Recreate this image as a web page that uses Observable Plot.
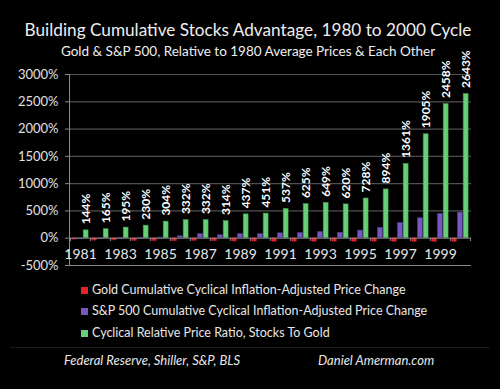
<!DOCTYPE html>
<html><head><meta charset="utf-8">
<script src="https://cdn.jsdelivr.net/npm/d3@7"></script>
<script src="https://cdn.jsdelivr.net/npm/@observablehq/plot@0.6"></script>
<style>
body{margin:0;background:#000;width:500px;height:389px;overflow:hidden;font-family:Lato,"Open Sans",sans-serif;color:#eee;position:relative}
.t{position:absolute;left:0;width:496px;text-align:center;white-space:nowrap}
#title{top:19px;font-size:17.2px;line-height:22px}
#sub{top:43px;font-size:13.5px;line-height:16px}
#chart{position:absolute;left:0;top:60px}
.leg{position:absolute;left:81px;font-size:12.5px;line-height:14px;color:#e8e8e8;white-space:nowrap}
.sw{display:inline-block;width:7px;height:7px;margin-right:4px;vertical-align:0px}
.foot{position:absolute;top:352px;font-size:13px;font-style:italic;color:#e8e8e8;white-space:nowrap}
#sep{position:absolute;left:10px;width:480px;top:347px;height:1px;background:#1c1c1c}
</style></head>
<body>
<div id="title" class="t">Building Cumulative Stocks Advantage, 1980 to 2000 Cycle</div>
<div id="sub" class="t">Gold &amp; S&amp;P 500, Relative to 1980 Average Prices &amp; Each Other</div>
<div id="chart"></div>
<div id="legend"></div>
<div id="sep"></div>
<div class="foot" style="left:64px">Federal Reserve, Shiller, S&amp;P, BLS</div>
<div class="foot" style="left:318px">Daniel Amerman.com</div>
<script>
const years = [1981,1982,1983,1984,1985,1986,1987,1988,1989,1990,1991,1992,1993,1994,1995,1996,1997,1998,1999,2000];
const goldChange = [-25,-45,-40,-50,-55,-55,-50,-55,-60,-62,-65,-65,-65,-65,-65,-65,-67,-70,-70,-70];
const spChange = [-8,-12,8,5,12,35,75,55,75,75,90,95,115,100,140,190,280,365,445,470];
const ratioChange = [144,165,195,230,304,332,332,314,437,451,537,625,649,620,728,894,1361,1905,2458,2643];
const yTicks = [-500,0,500,1000,1500,2000,2500,3000];
const labeledYears = [1981,1983,1985,1987,1989,1991,1993,1995,1997,1999];
const seriesNames = ["Gold Cumulative  Cyclical Inflation-Adjusted Price Change","S&P 500 Cumulative Cyclical Inflation-Adjusted Price Change","Cyclical Relative Price Ratio, Stocks To Gold"];
const colors = ["#e3222b","#7657c2","#67cf76"];
const strokes = ["#a0141b","#4c3490","#3f9a4e"];

const rows = years.map((y,i)=>({year:y, gold:goldChange[i], sp:spChange[i], ratio:ratioChange[i]}));

const chart = Plot.plot({
  width:500, height:215,
  marginLeft:69, marginRight:29, marginTop:14, marginBottom:10,
  x:{type:"band", domain:years, padding:0, axis:null},
  y:{domain:[-500,3000], axis:null},
  style:{background:"transparent", color:"#ddd", fontFamily:"Lato, 'Open Sans', sans-serif", overflow:"visible"},
  marks:[
    Plot.ruleY(yTicks.filter(t=>t>0), {stroke:"#505050", strokeWidth:1.2}),
    Plot.ruleY([-500], {stroke:"#8a8a8a"}),
    Plot.barY(rows, {x:"year", y:"gold", fill:colors[0], stroke:strokes[0], strokeWidth:0.6, insetLeft:1.8, insetRight:13.7}),
    Plot.barY(rows, {x:"year", y:"sp", fill:colors[1], stroke:strokes[1], strokeWidth:0.6, insetLeft:7.4, insetRight:7.7}),
    Plot.barY(rows, {x:"year", y:"ratio", fill:colors[2], stroke:strokes[2], strokeWidth:0.6, insetLeft:13.2, insetRight:1.9}),
    Plot.ruleY([0], {stroke:"#8a8a8a"}),
    Plot.ruleX(years, {x:d=>d, dx:-10.05, y1:0, y2:-60, stroke:"#8a8a8a"}),
    Plot.ruleX([2000], {x:d=>d, dx:10.05, y1:0, y2:-60, stroke:"#8a8a8a"}),
    Plot.frame({anchor:"left", stroke:"#8a8a8a"}),
    Plot.axisY({ticks:yTicks, tickFormat:d=>d+"%", tickSize:4, tickPadding:7, fontSize:13, stroke:"#8a8a8a", fill:"#e0e0e0"}),
    Plot.text(rows, {x:"year", y:"ratio", text:d=>d.ratio+"%", rotate:-90, textAnchor:"start", dx:5.5, dy:-6, fill:"#fff", fontSize:12, fontWeight:"bold"}),
    Plot.text(labeledYears, {x:d=>d, y:0, dy:16, text:d=>String(d), fill:"#e8e8e8", fontSize:14})
  ]
});
document.getElementById("chart").appendChild(chart);

const leg = document.getElementById("legend");
const legTops = [283, 304, 326];
seriesNames.forEach((n,i)=>{
  const d = document.createElement("div");
  d.className = "leg";
  d.style.top = legTops[i]+"px";
  d.innerHTML = `<span class="sw" style="background:${colors[i]}"></span>`;
  d.appendChild(document.createTextNode(n));
  leg.appendChild(d);
});
</script>
</body></html>
